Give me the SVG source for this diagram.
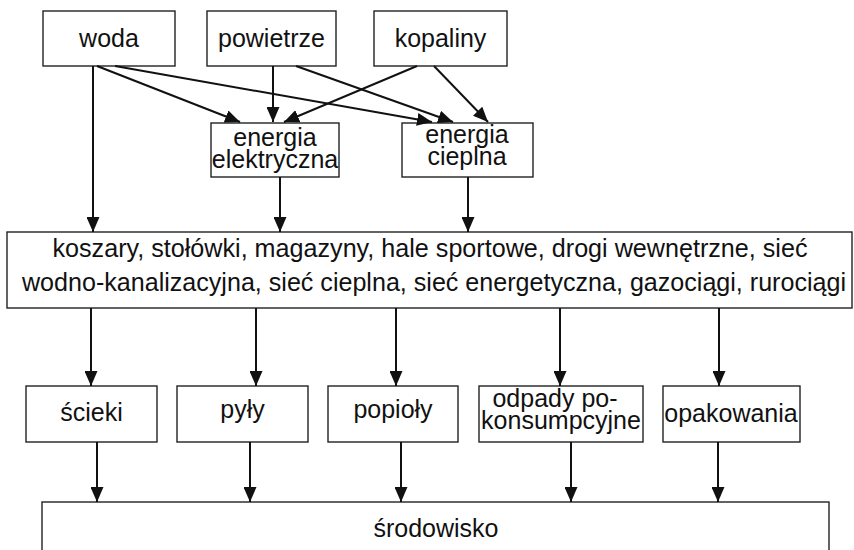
<svg xmlns="http://www.w3.org/2000/svg" width="854" height="550" viewBox="0 0 854 550">
<defs>
<marker id="ah" markerUnits="userSpaceOnUse" markerWidth="15" markerHeight="13" refX="15" refY="6.5" orient="auto">
<path d="M0,0 L15,6.5 L0,13 z" fill="#111"/>
</marker>
<style>
.box{fill:#fff;stroke:#222;stroke-width:1.4}
.t{font-family:"Liberation Sans",Arial,sans-serif;font-size:25px;fill:#111;text-anchor:middle}
.m{font-size:26px}
.c line{stroke:#111;stroke-width:2;marker-end:url(#ah)}
</style>
</defs>
<rect width="854" height="550" fill="#fff"/>
<g id="woda"><rect class="box" x="43" y="11" width="132" height="55"/><text class="t" x="109" y="47">woda</text></g>
<g id="powietrze"><rect class="box" x="207" y="11" width="129" height="55"/><text class="t" x="271.5" y="47">powietrze</text></g>
<g id="kopaliny"><rect class="box" x="374" y="11" width="133" height="55"/><text class="t" x="440.5" y="47">kopaliny</text></g>
<g id="energia-elektryczna"><rect class="box" x="211" y="123" width="128" height="54"/><text class="t" x="275" y="146">energia</text><text class="t" x="275" y="168">elektryczna</text></g>
<g id="energia-cieplna"><rect class="box" x="402" y="123" width="131" height="54"/><text class="t" x="467" y="143">energia</text><text class="t" x="467" y="165">cieplna</text></g>
<g id="infrastruktura"><rect class="box" x="7" y="232" width="845" height="76"/><text class="t m" x="430" y="257" textLength="755" lengthAdjust="spacingAndGlyphs">koszary, stołówki, magazyny, hale sportowe, drogi wewnętrzne, sieć</text><text class="t m" x="434" y="291" textLength="824" lengthAdjust="spacingAndGlyphs">wodno-kanalizacyjna, sieć cieplna, sieć energetyczna, gazociągi, rurociągi</text></g>
<g id="scieki"><rect class="box" x="26" y="386" width="131" height="56"/><text class="t" x="91.5" y="421">ścieki</text></g>
<g id="pyly"><rect class="box" x="177" y="386" width="131" height="56"/><text class="t" x="242.5" y="418">pyły</text></g>
<g id="popioly"><rect class="box" x="328" y="386" width="130" height="56"/><text class="t" x="393" y="418">popioły</text></g>
<g id="odpady"><rect class="box" x="479" y="386" width="164" height="56"/><text class="t" x="555" y="407">odpady po-</text><text class="t" x="561" y="429">konsumpcyjne</text></g>
<g id="opakowania"><rect class="box" x="663" y="386" width="137" height="56"/><text class="t" x="731" y="422">opakowania</text></g>
<g id="srodowisko"><rect class="box" x="42" y="502" width="787" height="60"/><text class="t" x="436" y="537">środowisko</text></g>
<g id="connectors" class="c">
<line x1="93" y1="66" x2="93" y2="232"/>
<line x1="97" y1="66" x2="240" y2="122"/>
<line x1="115" y1="66" x2="432" y2="122"/>
<line x1="273" y1="66" x2="273" y2="122"/>
<line x1="296" y1="66" x2="453" y2="122"/>
<line x1="417" y1="66" x2="284" y2="122"/>
<line x1="434" y1="66" x2="488" y2="122"/>
<line x1="280" y1="177" x2="280" y2="232"/>
<line x1="468" y1="177" x2="468" y2="232"/>
<line x1="91" y1="308" x2="91" y2="386"/>
<line x1="256" y1="308" x2="256" y2="386"/>
<line x1="396" y1="308" x2="396" y2="386"/>
<line x1="560" y1="308" x2="560" y2="386"/>
<line x1="719" y1="308" x2="719" y2="386"/>
<line x1="97" y1="442" x2="97" y2="502"/>
<line x1="250" y1="442" x2="250" y2="502"/>
<line x1="401" y1="442" x2="401" y2="502"/>
<line x1="571" y1="442" x2="571" y2="502"/>
<line x1="718" y1="442" x2="718" y2="502"/>
</g>
</svg>
